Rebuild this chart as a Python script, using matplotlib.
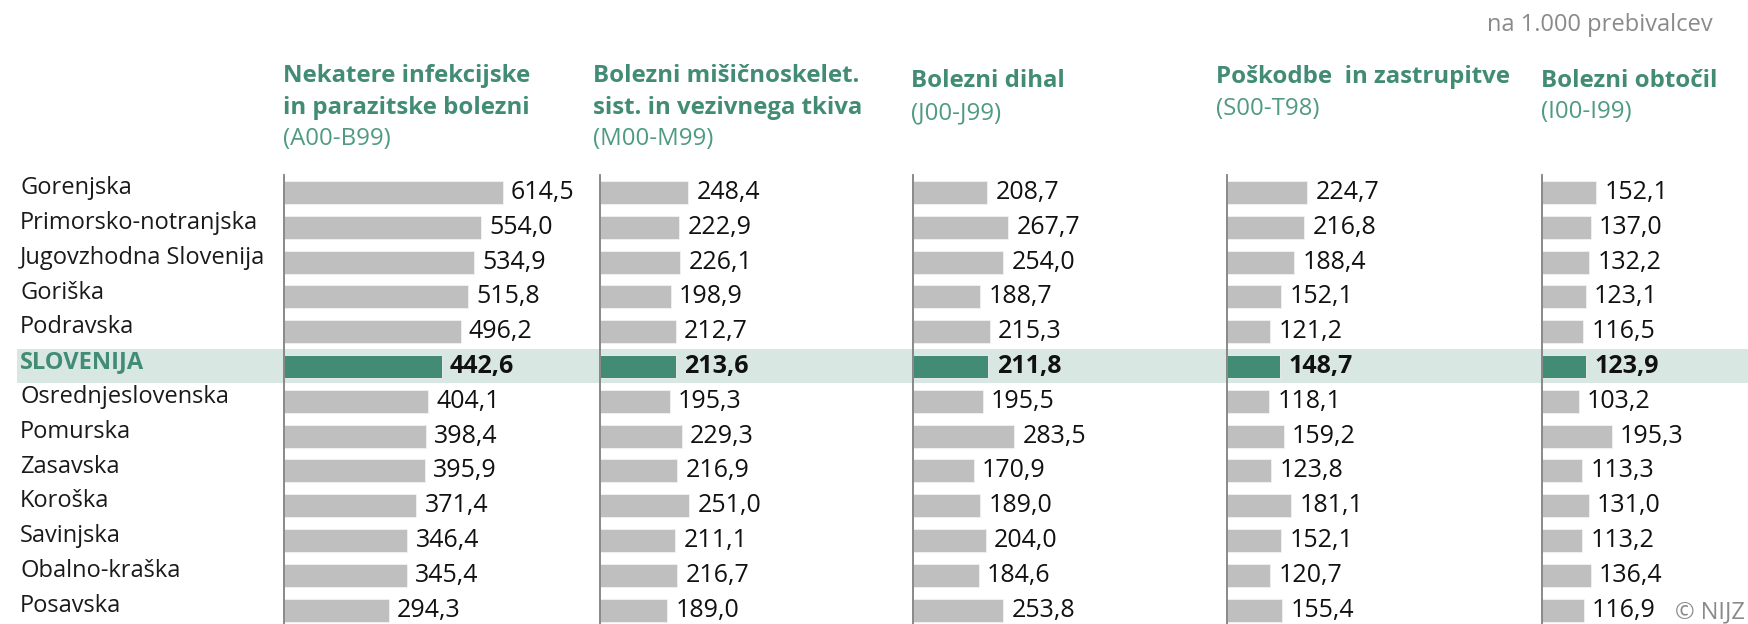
import matplotlib.pyplot as plt
from matplotlib.patches import Rectangle

plt.rcParams['font.family'] = ['Open Sans', 'DejaVu Sans']

regions = ['Gorenjska', 'Primorsko-notranjska', 'Jugovzhodna Slovenija', 'Goriška',
           'Podravska', 'SLOVENIJA', 'Osrednjeslovenska', 'Pomurska', 'Zasavska',
           'Koroška', 'Savinjska', 'Obalno-kraška', 'Posavska']

titles = [['Nekatere infekcijske', 'in parazitske bolezni'],
          ['Bolezni mišičnoskelet.', 'sist. in vezivnega tkiva'],
          ['Bolezni dihal'],
          ['Poškodbe  in zastrupitve'],
          ['Bolezni obtočil']]
codes = ['(A00-B99)', '(M00-M99)', '(J00-J99)', '(S00-T98)', '(I00-I99)']

infekcijske = [614.5, 554.0, 534.9, 515.8, 496.2, 442.6, 404.1, 398.4, 395.9, 371.4, 346.4, 345.4, 294.3]
misicnoskelet = [248.4, 222.9, 226.1, 198.9, 212.7, 213.6, 195.3, 229.3, 216.9, 251.0, 211.1, 216.7, 189.0]
dihal = [208.7, 267.7, 254.0, 188.7, 215.3, 211.8, 195.5, 283.5, 170.9, 189.0, 204.0, 184.6, 253.8]
poskodbe = [224.7, 216.8, 188.4, 152.1, 121.2, 148.7, 118.1, 159.2, 123.8, 181.1, 152.1, 120.7, 155.4]
obtocil = [152.1, 137.0, 132.2, 123.1, 116.5, 123.9, 103.2, 195.3, 113.3, 131.0, 113.2, 136.4, 116.9]
series = [infekcijske, misicnoskelet, dihal, poskodbe, obtocil]

GREEN = '#428c75'
BAND = '#d9e7e2'
GREY_BAR = '#bfbfbf'
GREY_TXT = '#8a8a8a'

W, H = 1748, 624
fig = plt.figure(figsize=(W / 100, H / 100), dpi=100)

ax_top, ax_bot = 175, 624
ylim = (12.4, -0.5)
hl = regions.index('SLOVENIJA')

def fx(px):
    return px / W

def fy(py):
    return 1 - py / H

# background axes: band + row labels
bg = fig.add_axes([fx(17), fy(ax_bot), fx(W - 17), (ax_bot - ax_top) / H])
bg.set_xlim(0, W - 17)
bg.set_ylim(*ylim)
bg.axis('off')
bg.add_patch(Rectangle((0, hl - 0.49), W, 0.98, color=BAND, lw=0))
for i, r in enumerate(regions):
    bold = i == hl
    bg.text(3, i - 0.12, r, va='center', ha='left', fontsize=17,
            color=GREEN if bold else '#1a1a1a',
            fontweight='bold' if bold else 'normal')

panel_x = [284, 600, 913, 1227, 1542]
title_x = [283, 593, 911, 1216, 1541]
title_y = [[76, 108, 139], [76, 108, 139], [81, 113], [77, 109], [81, 112]]
px_per_unit = 0.356
ax_w = 300

for k, vals in enumerate(series):
    ax = fig.add_axes([fx(panel_x[k]), fy(ax_bot), fx(ax_w), (ax_bot - ax_top) / H])
    ax.set_facecolor('none')
    ax.set_xlim(0, ax_w / px_per_unit)
    ax.set_ylim(*ylim)
    for s in ['top', 'right', 'bottom']:
        ax.spines[s].set_visible(False)
    ax.spines['left'].set_color('#808080')
    ax.spines['left'].set_linewidth(1.3)
    ax.set_xticks([])
    ax.set_yticks([])
    colors = [GREEN if i == hl else GREY_BAR for i in range(len(vals))]
    ax.barh(range(len(vals)), vals, height=0.66, color=colors, edgecolor='#f2f2f2', lw=0.6)
    for i, v in enumerate(vals):
        lab = f'{v:.1f}'.replace('.', ',')
        ax.annotate(lab, (v, i), xytext=(6, 0), textcoords='offset points',
                    va='center', ha='left', fontsize=18, color='#111111',
                    fontweight='bold' if i == hl else 'normal')
    lines = titles[k]
    ys = title_y[k]
    for j, t in enumerate(lines):
        fig.text(fx(title_x[k]), fy(ys[j]), t, fontsize=17.3, fontweight='bold',
                 color=GREEN, va='center', ha='left')
    fig.text(fx(title_x[k]), fy(ys[len(lines)]), codes[k], fontsize=17.3,
             color='#4f9a82', va='center', ha='left')

fig.text(fx(1713), fy(25), 'na 1.000 prebivalcev', fontsize=17, color=GREY_TXT,
         ha='right', va='center')
fig.text(fx(1745), fy(612), '© NIJZ', fontsize=17, color=GREY_TXT, ha='right', va='center')

fig.savefig('out.png', dpi=100)
